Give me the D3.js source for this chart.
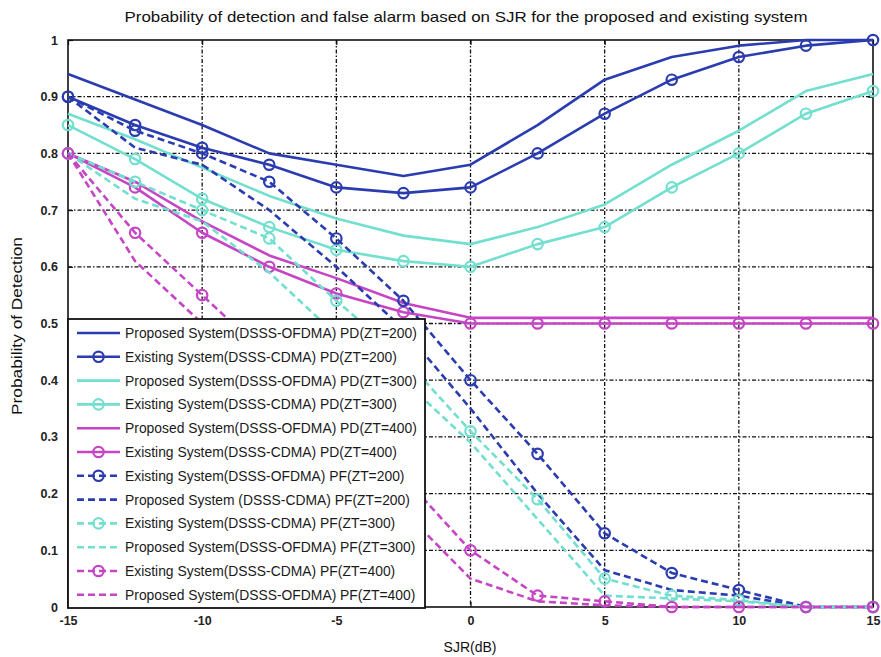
<!DOCTYPE html>
<html>
<head>
<meta charset="utf-8">
<script src="https://cdn.jsdelivr.net/npm/d3@7"></script>
<style>
  html, body { margin: 0; padding: 0; background: #fff; }
  svg { display: block; font-family: "Liberation Sans", Arial, sans-serif; }
</style>
</head>
<body>
<svg id="chart" width="881" height="657"></svg>
<script>
// SJR sweep (dB)
const sjr = [-15, -12.5, -10, -7.5, -5, -2.5, 0, 2.5, 5, 7.5, 10, 12.5, 15];

// Probability of detection
const pdProposed200 = [0.94, 0.895, 0.85, 0.80, 0.78, 0.76, 0.78, 0.85, 0.93, 0.97, 0.99, 1.0, 1.0];
const pdExisting200 = [0.90, 0.85, 0.81, 0.78, 0.74, 0.73, 0.74, 0.80, 0.87, 0.93, 0.97, 0.99, 1.0];
const pdProposed300 = [0.87, 0.825, 0.775, 0.725, 0.685, 0.655, 0.64, 0.67, 0.71, 0.78, 0.84, 0.91, 0.94];
const pdExisting300 = [0.85, 0.79, 0.72, 0.67, 0.63, 0.61, 0.60, 0.64, 0.67, 0.74, 0.80, 0.87, 0.91];
const pdProposed400 = [0.80, 0.75, 0.68, 0.62, 0.58, 0.536, 0.51, 0.51, 0.51, 0.51, 0.51, 0.51, 0.51];
const pdExisting400 = [0.80, 0.74, 0.66, 0.60, 0.553, 0.52, 0.50, 0.50, 0.50, 0.50, 0.50, 0.50, 0.50];

// Probability of false alarm
const pfExisting200 = [0.90, 0.84, 0.80, 0.75, 0.65, 0.54, 0.40, 0.27, 0.13, 0.06, 0.03, 0, 0];
const pfProposed200 = [0.90, 0.81, 0.78, 0.70, 0.60, 0.49, 0.35, 0.20, 0.065, 0.03, 0.02, 0, 0];
const pfExisting300 = [0.80, 0.75, 0.70, 0.65, 0.54, 0.44, 0.31, 0.19, 0.05, 0.02, 0.012, 0, 0];
const pfProposed300 = [0.80, 0.72, 0.68, 0.59, 0.48, 0.40, 0.29, 0.155, 0.02, 0.015, 0.01, 0, 0];
const pfExisting400 = [0.80, 0.66, 0.55, 0.44, 0.33, 0.23, 0.10, 0.02, 0.01, 0, 0, 0, 0];
const pfProposed400 = [0.80, 0.61, 0.50, 0.39, 0.28, 0.17, 0.05, 0.01, 0.003, 0, 0, 0, 0];

// Axis ticks
const xTicks = [-15, -10, -5, 0, 5, 10, 15];
const xTickLabels = ["-15", "-10", "-5", "0", "5", "10", "15"];
const yTicks = [0, 0.1, 0.2, 0.3, 0.4, 0.5, 0.6, 0.7, 0.8, 0.9, 1];
const yTickLabels = ["0", "0.1", "0.2", "0.3", "0.4", "0.5", "0.6", "0.7", "0.8", "0.9", "1"];

const seriesNames = [
  "Proposed System(DSSS-OFDMA) PD(ZT=200)",
  "Existing System(DSSS-CDMA) PD(ZT=200)",
  "Proposed System(DSSS-OFDMA) PD(ZT=300)",
  "Existing System(DSSS-CDMA) PD(ZT=300)",
  "Proposed System(DSSS-OFDMA) PD(ZT=400)",
  "Existing System(DSSS-CDMA) PD(ZT=400)",
  "Existing System(DSSS-OFDMA) PF(ZT=200)",
  "Proposed System (DSSS-CDMA) PF(ZT=200)",
  "Existing System(DSSS-CDMA) PF(ZT=300)",
  "Proposed System(DSSS-OFDMA) PF(ZT=300)",
  "Existing System(DSSS-CDMA) PF(ZT=400)",
  "Proposed System(DSSS-OFDMA) PF(ZT=400)"
];

const BLUE = "#2b3cb0", TEAL = "#72dfcf", MAGENTA = "#c545c5";

const series = [
  { name: seriesNames[0],  values: pdProposed200, color: BLUE,    dashed: false, marker: false },
  { name: seriesNames[1],  values: pdExisting200, color: BLUE,    dashed: false, marker: true },
  { name: seriesNames[2],  values: pdProposed300, color: TEAL,    dashed: false, marker: false },
  { name: seriesNames[3],  values: pdExisting300, color: TEAL,    dashed: false, marker: true },
  { name: seriesNames[4],  values: pdProposed400, color: MAGENTA, dashed: false, marker: false },
  { name: seriesNames[5],  values: pdExisting400, color: MAGENTA, dashed: false, marker: true },
  { name: seriesNames[6],  values: pfExisting200, color: BLUE,    dashed: true,  marker: true },
  { name: seriesNames[7],  values: pfProposed200, color: BLUE,    dashed: true,  marker: false },
  { name: seriesNames[8],  values: pfExisting300, color: TEAL,    dashed: true,  marker: true },
  { name: seriesNames[9],  values: pfProposed300, color: TEAL,    dashed: true,  marker: false },
  { name: seriesNames[10], values: pfExisting400, color: MAGENTA, dashed: true,  marker: true },
  { name: seriesNames[11], values: pfProposed400, color: MAGENTA, dashed: true,  marker: false }
];

const svg = d3.select("#chart");
const plot = { left: 68, right: 873, top: 40, bottom: 607 };

const x = d3.scaleLinear().domain([-15, 15]).range([plot.left, plot.right]);
const y = d3.scaleLinear().domain([0, 1]).range([plot.bottom, plot.top]);

// Title
svg.append("text")
  .attr("x", 466).attr("y", 22)
  .attr("text-anchor", "middle")
  .attr("font-size", 15)
  .attr("fill", "#111")
  .attr("textLength", 683).attr("lengthAdjust", "spacingAndGlyphs")
  .text("Probability of detection and false alarm based on SJR for the proposed and existing system");

// Grid
const grid = svg.append("g").attr("stroke", "#111").attr("stroke-width", 1.3)
  .attr("stroke-dasharray", "4,2,1.5,2");
grid.selectAll("line.v").data(xTicks.slice(1, -1)).join("line")
  .attr("x1", d => x(d)).attr("x2", d => x(d))
  .attr("y1", plot.top).attr("y2", plot.bottom);
grid.selectAll("line.h").data(yTicks.slice(1, -1)).join("line")
  .attr("x1", plot.left).attr("x2", plot.right)
  .attr("y1", d => y(d)).attr("y2", d => y(d));

// Axes with inward ticks
const xAxis = svg.append("g").attr("transform", `translate(0,${plot.bottom})`)
  .call(d3.axisBottom(x).tickValues(xTicks).tickSize(-5).tickPadding(9)
    .tickFormat((d, i) => xTickLabels[i]));
const xAxisTop = svg.append("g").attr("transform", `translate(0,${plot.top})`)
  .call(d3.axisTop(x).tickValues(xTicks).tickSize(-5).tickFormat(""));
const yAxis = svg.append("g").attr("transform", `translate(${plot.left},0)`)
  .call(d3.axisLeft(y).tickValues(yTicks).tickSize(-5).tickPadding(10)
    .tickFormat((d, i) => yTickLabels[i]));
const yAxisRight = svg.append("g").attr("transform", `translate(${plot.right},0)`)
  .call(d3.axisRight(y).tickValues(yTicks).tickSize(-5).tickFormat(""));

[xAxis, xAxisTop, yAxis, yAxisRight].forEach(g => {
  g.select(".domain").remove();
  g.selectAll(".tick line").attr("stroke", "#111").attr("stroke-width", 1.2);
  g.selectAll(".tick text").attr("font-size", 12.5).attr("font-weight", "bold")
    .attr("fill", "#222").attr("font-family", "'Liberation Sans', Arial, sans-serif");
});

// Axis box
svg.append("rect")
  .attr("x", plot.left).attr("y", plot.top)
  .attr("width", plot.right - plot.left).attr("height", plot.bottom - plot.top)
  .attr("fill", "none").attr("stroke", "#111").attr("stroke-width", 1.6);

// Axis labels
svg.append("text")
  .attr("x", 470).attr("y", 652)
  .attr("text-anchor", "middle").attr("font-size", 14).attr("fill", "#111")
  .text("SJR(dB)");
svg.append("text")
  .attr("transform", "translate(22,326) rotate(-90)")
  .attr("text-anchor", "middle").attr("font-size", 14).attr("fill", "#111")
  .attr("textLength", 178).attr("lengthAdjust", "spacingAndGlyphs")
  .text("Probability of Detection");

// Series
const line = d3.line().x((d, i) => x(sjr[i])).y(d => y(d));
const lines = svg.append("g");
series.forEach(s => {
  const g = lines.append("g");
  g.append("path")
    .attr("d", line(s.values))
    .attr("fill", "none")
    .attr("stroke", s.color)
    .attr("stroke-width", 2.6)
    .attr("stroke-linejoin", "round")
    .attr("stroke-dasharray", s.dashed ? "7,4" : null);
  if (s.marker) {
    g.selectAll("circle").data(s.values).join("circle")
      .attr("cx", (d, i) => x(sjr[i])).attr("cy", d => y(d))
      .attr("r", 5.2)
      .attr("fill", "none").attr("stroke", s.color).attr("stroke-width", 2.2);
  }
});

// Legend
const legend = { x: 68, y: 319, w: 357, h: 289, row0: 333, step: 23.8 };
const lg = svg.append("g");
lg.append("rect")
  .attr("x", legend.x).attr("y", legend.y)
  .attr("width", legend.w).attr("height", legend.h)
  .attr("fill", "#fff").attr("stroke", "#111").attr("stroke-width", 1.8);

const rows = lg.selectAll("g.row").data(series).join("g")
  .attr("transform", (d, i) => `translate(0,${legend.row0 + i * legend.step})`);
rows.append("line")
  .attr("x1", 77).attr("x2", 120).attr("y1", 0).attr("y2", 0)
  .attr("stroke", d => d.color).attr("stroke-width", 2.6)
  .attr("stroke-dasharray", d => d.dashed ? "7,4" : null);
rows.filter(d => d.marker).append("circle")
  .attr("cx", 98.5).attr("cy", 0).attr("r", 5.2)
  .attr("fill", "none").attr("stroke", d => d.color).attr("stroke-width", 2.2);
const labels = rows.append("text")
  .attr("x", 0).attr("y", 5)
  .attr("font-size", 14.5).attr("fill", "#1a1a1a")
  .text(d => d.name);

// Condense legend text so the longest entry ends at the box edge
const widest = d3.max(labels.nodes(), n => n.getComputedTextLength());
const sx = 292 / widest;
labels.attr("transform", `translate(125,0) scale(${sx},1)`);
</script>
</body>
</html>
